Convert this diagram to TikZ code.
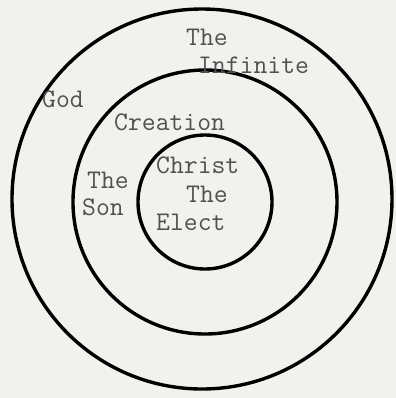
\documentclass[tikz,border=0pt]{standalone}
\definecolor{paper}{RGB}{241,242,238}
\definecolor{ink}{RGB}{80,80,80}
\begin{document}
\begin{tikzpicture}[x=1bp,y=-1bp,
  ring/.style={circle,draw=black,line width=3.4bp,inner sep=0pt},
  lbl/.style={anchor=base west,inner sep=0pt,text=ink,font=\ttfamily\fontsize{27}{27}\selectfont}]
\fill[paper] (0,0) rectangle (396,398);
\useasboundingbox (0,0) rectangle (396,398);
\node[ring,minimum size=380bp] (outer) at (202,199) {};
\node[ring,minimum size=264bp] (middle) at (205,202) {};
\node[ring,minimum size=134bp] (inner) at (205,202) {};
\node[lbl] (the1) at (186,45) {The};
\node[lbl] (infinite) at (198,73) {Infinite};
\node[lbl] (god) at (42,107) {God};
\node[lbl] (creation) at (114,130) {Creation};
\node[lbl] (christ) at (156,173) {Christ};
\node[lbl] (the2) at (186,202) {The};
\node[lbl] (elect) at (156,230) {Elect};
\node[lbl] (the3) at (87,188) {The};
\node[lbl] (son) at (82,215) {Son};
\end{tikzpicture}
\end{document}
